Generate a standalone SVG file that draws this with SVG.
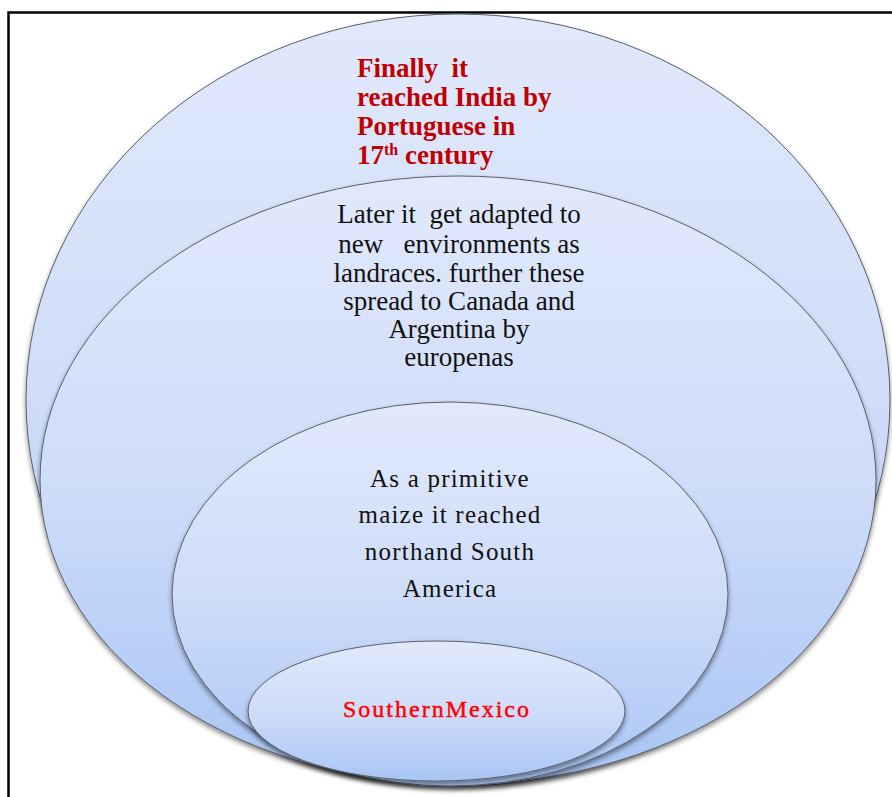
<svg xmlns="http://www.w3.org/2000/svg" width="892" height="797" viewBox="0 0 892 797">
<style>
text{white-space:pre}
.ell{stroke:#5a5f6a;stroke-width:1;filter:url(#sh)}
.red{font-family:"Liberation Serif","Times New Roman",serif;font-weight:bold;font-size:27px;fill:#c00000}
.blk{font-family:"Liberation Serif","Times New Roman",serif;font-size:27px;fill:#111;text-anchor:middle}
.pal{font-family:"Liberation Serif","Times New Roman",serif;font-size:25px;fill:#111;text-anchor:middle;letter-spacing:1.2px}
.sm{font-family:"Liberation Serif","Times New Roman",serif;font-size:24px;fill:#ff0000;stroke:#ff0000;stroke-width:0.45px;text-anchor:middle;letter-spacing:2px}
</style>
<defs>
<linearGradient id="g" x1="0" y1="0" x2="0" y2="1">
<stop offset="0" stop-color="#e1e9fb"/>
<stop offset="0.5" stop-color="#cfddf9"/>
<stop offset="1" stop-color="#a9c5f5"/>
</linearGradient>
<filter id="sh" x="-10%" y="-10%" width="120%" height="125%">
<feDropShadow dx="0" dy="3" stdDeviation="2.5" flood-color="#000" flood-opacity="0.45"/>
</filter>
</defs>
<rect x="0" y="0" width="892" height="797" fill="#fff"/>
<rect x="8.5" y="12.5" width="900" height="800" fill="none" stroke="#000" stroke-width="2.5"/>
<g id="node-india">
<ellipse class="ell" cx="458" cy="400" rx="432" ry="386" fill="url(#g)"/>
<text class="red" x="357" y="77">Finally  it</text>
<text class="red" x="357" y="106">reached India by</text>
<text class="red" x="357" y="135">Portuguese in</text>
<text class="red" x="357" y="164">17<tspan font-size="16" dy="-9">th</tspan><tspan dy="9"> century</tspan></text>
</g>
<g id="node-landraces">
<ellipse class="ell" cx="458" cy="480" rx="418" ry="304" fill="url(#g)"/>
<text class="blk" x="459" y="223">Later it  get adapted to</text>
<text class="blk" x="459" y="253">new   environments as</text>
<text class="blk" x="459" y="282">landraces. further these</text>
<text class="blk" x="459" y="310">spread to Canada and</text>
<text class="blk" x="459" y="338">Argentina by</text>
<text class="blk" x="459" y="366">europenas</text>
</g>
<g id="node-america">
<ellipse class="ell" cx="450" cy="594" rx="278" ry="192" fill="url(#g)"/>
<text class="pal" x="450" y="487">As a primitive</text>
<text class="pal" x="450" y="523">maize it reached</text>
<text class="pal" x="450" y="560">northand South</text>
<text class="pal" x="450" y="597">America</text>
</g>
<g id="node-mexico">
<ellipse class="ell" cx="436.5" cy="711" rx="188.5" ry="70" fill="url(#g)"/>
<text class="sm" x="437" y="717">SouthernMexico</text>
</g>
<g id="connectors"></g>
</svg>
